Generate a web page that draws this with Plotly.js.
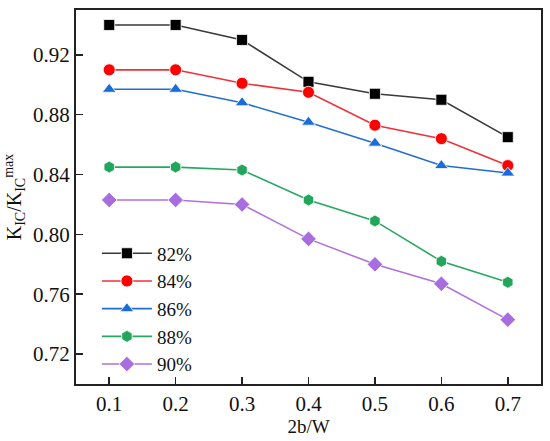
<!DOCTYPE html>
<html>
<head>
<meta charset="utf-8">
<script src="https://cdn.plot.ly/plotly-3.0.1.min.js"></script>
<style>html,body{margin:0;padding:0;background:#fff;}#chart{width:550px;height:441px;}</style>
</head>
<body>
<div id="chart"></div>
<script>
var xValues = [0.1, 0.2, 0.3, 0.4, 0.5, 0.6, 0.7];
var seriesNames = ["82%", "84%", "86%", "88%", "90%"];
var s82 = [0.940, 0.940, 0.930, 0.902, 0.894, 0.890, 0.865];
var s84 = [0.910, 0.910, 0.901, 0.895, 0.873, 0.864, 0.846];
var s86 = [0.897, 0.897, 0.888, 0.875, 0.861, 0.846, 0.841];
var s88 = [0.845, 0.845, 0.843, 0.823, 0.809, 0.782, 0.768];
var s90 = [0.823, 0.823, 0.820, 0.797, 0.780, 0.767, 0.743];
var yTicks = [0.72, 0.76, 0.80, 0.84, 0.88, 0.92];
var xTicks = [0.1, 0.2, 0.3, 0.4, 0.5, 0.6, 0.7];

var allSeries = [s82, s84, s86, s88, s90];
var lineColors = ["#3a3a3a", "#f0303a", "#1f6fd0", "#27a860", "#b070e0"];
var markerColors = ["#000000", "#ff0000", "#1a6cd8", "#22a65c", "#a86ee0"];
var symbols = ["square", "circle", "triangle-up", "hexagon", "diamond"];
var sizes = [11, 12, 12, 12, 12];

var traces = allSeries.map(function (ys, i) {
  return {
    x: xValues, y: ys, name: seriesNames[i], type: "scatter", mode: "lines+markers",
    line: {color: lineColors[i], width: 1.6},
    marker: {symbol: symbols[i], size: sizes[i], color: markerColors[i], line: {color: "#ffffff", width: 0.8}}
  };
});

var fam = "Liberation Serif";
var layout = {
  width: 550, height: 441,
  margin: {l: 76, r: 9, t: 10, b: 57},
  paper_bgcolor: "#fff", plot_bgcolor: "#fff",
  font: {family: fam, size: 20, color: "#111"},
  showlegend: true,
  legend: {x: 0.045, y: 0.40, xanchor: "left", yanchor: "top", bgcolor: "rgba(0,0,0,0)",
    font: {family: fam, size: 19, color: "#111"}, itemwidth: 50},
  xaxis: {
    range: [0.05, 0.75], tickvals: xTicks, ticktext: xTicks.map(function (v) { return v.toFixed(1); }),
    ticks: "inside", ticklen: 7, tickwidth: 1.5, tickcolor: "#222",
    showline: true, linecolor: "#222", linewidth: 2, mirror: true,
    showgrid: false, zeroline: false,
    tickfont: {family: fam, size: 21, color: "#111"},
    title: {text: "2b/W", font: {family: fam, size: 19, color: "#111"}, standoff: 0}
  },
  yaxis: {
    range: [0.70, 0.95], tickvals: yTicks, ticktext: yTicks.map(function (v) { return v.toFixed(2); }),
    ticks: "inside", ticklen: 7, tickwidth: 1.5, tickcolor: "#222",
    showline: true, linecolor: "#222", linewidth: 2, mirror: true,
    showgrid: false, zeroline: false,
    tickfont: {family: fam, size: 21, color: "#111"},
    title: {text: "K<sub>IC</sub>/K<sub>IC</sub><sup>max</sup>", font: {family: fam, size: 20, color: "#111"}, standoff: 6}
  }
};

Plotly.newPlot("chart", traces, layout, {displayModeBar: false, staticPlot: true});
</script>
</body>
</html>
